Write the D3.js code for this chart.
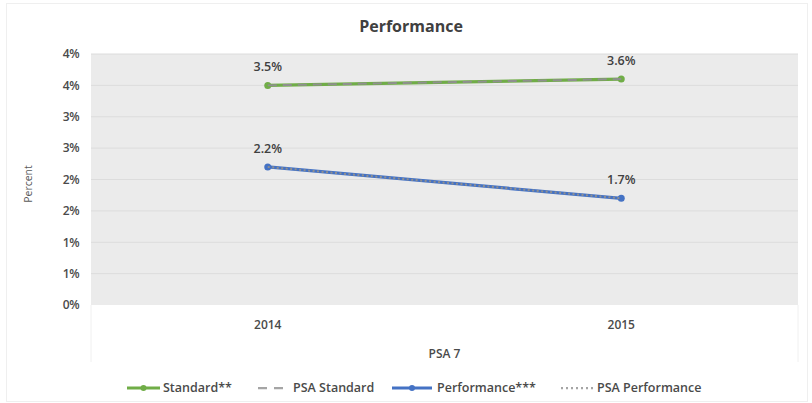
<!DOCTYPE html>
<html><head><meta charset="utf-8">
<script src="https://cdn.jsdelivr.net/npm/d3@7"></script>
<style>
body{margin:0;background:#fff;}
text{font-family:"Open Sans","Liberation Sans",sans-serif;}
</style></head>
<body><svg id="c" width="812" height="403"></svg>
<script>
const categories = ["2014", "2015"];
const standard = [3.5, 3.6];
const psaStandard = [3.5, 3.6];
const performance = [2.2, 1.7];
const psaPerformance = [2.2, 1.7];
const yTicks = [0, 0.5, 1, 1.5, 2, 2.5, 3, 3.5, 4];
const yTickLabels = ["0%", "1%", "1%", "2%", "2%", "3%", "3%", "4%", "4%"];
const outerCategory = "PSA 7";
const seriesNames = ["Standard**", "PSA Standard", "Performance***", "PSA Performance"];

const svg = d3.select("#c");
const L = 91, R = 798, T = 54, B = 305;

// chart border
svg.append("rect").attr("x", 6.5).attr("y", 3.5).attr("width", 801).attr("height", 398)
  .attr("fill", "none").attr("stroke", "#EFEFEF").attr("stroke-width", 1);

const x = d3.scaleBand().domain(categories).range([L, R]);
const y = d3.scaleLinear().domain([0, 4]).range([B, T]);

svg.append("rect").attr("x", L).attr("y", T).attr("width", R - L).attr("height", B - T).attr("fill", "#EBEBEB");

svg.append("g").selectAll("line").data(yTicks.slice(1)).join("line")
  .attr("x1", L).attr("x2", R).attr("y1", d => y(d)).attr("y2", d => y(d))
  .attr("stroke", "#DCDCDC").attr("stroke-width", 1);

// y axis labels
const yAxis = d3.axisLeft(y).tickValues(yTicks).tickSize(0).tickPadding(0)
  .tickFormat((d, i) => yTickLabels[i]);
const ya = svg.append("g").attr("transform", `translate(${L - 12},0)`).call(yAxis);
ya.select(".domain").remove();
ya.selectAll("text").attr("fill", "#4a4a4a").attr("font-size", 12).attr("font-weight", 600)
  .attr("font-family", "Open Sans, sans-serif").attr("letter-spacing", "-0.5");

// category axis
const xAxis = d3.axisBottom(x).tickSize(0).tickPadding(0);
const xa = svg.append("g").attr("transform", `translate(0,${B + 20})`).call(xAxis);
xa.select(".domain").remove();
xa.selectAll("text").attr("fill", "#4a4a4a").attr("font-size", 12).attr("font-weight", 600)
  .attr("font-family", "Open Sans, sans-serif").attr("dy", "0.32em");

// outer category divider lines
svg.append("g").selectAll("line").data([L, R]).join("line")
  .attr("x1", d => d).attr("x2", d => d).attr("y1", B).attr("y2", B + 57)
  .attr("stroke", "#F0F0F0").attr("stroke-width", 1);

svg.append("text").attr("x", (L + R) / 2).attr("y", B + 53).attr("text-anchor", "middle")
  .attr("fill", "#4a4a4a").attr("font-size", 12).attr("font-weight", 600).text(outerCategory);

// titles
svg.append("text").attr("x", 411).attr("y", 32).attr("text-anchor", "middle")
  .attr("fill", "#404040").attr("font-size", 16).attr("font-weight", 700).text("Performance");
svg.append("text").attr("transform", "translate(32,184) rotate(-90)").attr("text-anchor", "middle")
  .attr("fill", "#595959").attr("font-size", 10.5).text("Percent");

const cx = c => x(c) + x.bandwidth() / 2;
const line = d3.line().x((d, i) => cx(categories[i])).y(d => y(d));

function drawSeries(vals, color, width, dash, marker) {
  svg.append("path").datum(vals).attr("d", line).attr("fill", "none")
    .attr("stroke", color).attr("stroke-width", width).attr("stroke-dasharray", dash)
    .attr("stroke-linecap", "butt");
  if (marker) {
    svg.append("g").selectAll("circle").data(vals).join("circle")
      .attr("cx", (d, i) => cx(categories[i])).attr("cy", d => y(d)).attr("r", 3.5)
      .attr("fill", color);
  }
}
drawSeries(standard, "#70AD47", 3.25, null, true);
drawSeries(psaStandard, "#8F8F8F", 2, "9,6", false);
drawSeries(performance, "#4472C4", 3.25, null, true);
drawSeries(psaPerformance, "#8F8F8F", 2, "2,2.5", false);

// data labels
function labels(vals) {
  svg.append("g").selectAll("text").data(vals).join("text")
    .attr("x", (d, i) => cx(categories[i])).attr("y", d => y(d) - 14)
    .attr("text-anchor", "middle").attr("fill", "#404040").attr("font-size", 12.5).attr("font-weight", 600)
    .text(d => d.toFixed(1) + "%");
}
labels(standard);
labels(performance);

// legend
const ly = 388;
const legend = [
  {name: seriesNames[0], color: "#70AD47", dash: null, marker: true, x1: 127, x2: 160, tx: 163},
  {name: seriesNames[1], color: "#A5A5A5", dash: "9,7", marker: false, x1: 258, x2: 289, tx: 293},
  {name: seriesNames[2], color: "#4472C4", dash: null, marker: true, x1: 392, x2: 432, tx: 437},
  {name: seriesNames[3], color: "#A5A5A5", dash: "2,3", marker: false, x1: 561, x2: 593, tx: 597}
];
const lg = svg.append("g").selectAll("g").data(legend).join("g");
lg.append("line").attr("x1", d => d.x1).attr("x2", d => d.x2).attr("y1", ly).attr("y2", ly)
  .attr("stroke", d => d.color).attr("stroke-width", d => d.marker ? 3 : 2.25)
  .attr("stroke-dasharray", d => d.dash);
lg.filter(d => d.marker).append("circle").attr("cx", d => (d.x1 + d.x2) / 2).attr("cy", ly).attr("r", 3)
  .attr("fill", d => d.color);
lg.append("text").attr("x", d => d.tx).attr("y", ly).attr("dy", "0.35em")
  .attr("fill", "#4a4a4a").attr("font-size", 12.5).attr("font-weight", 600).text(d => d.name);
</script></body></html>
